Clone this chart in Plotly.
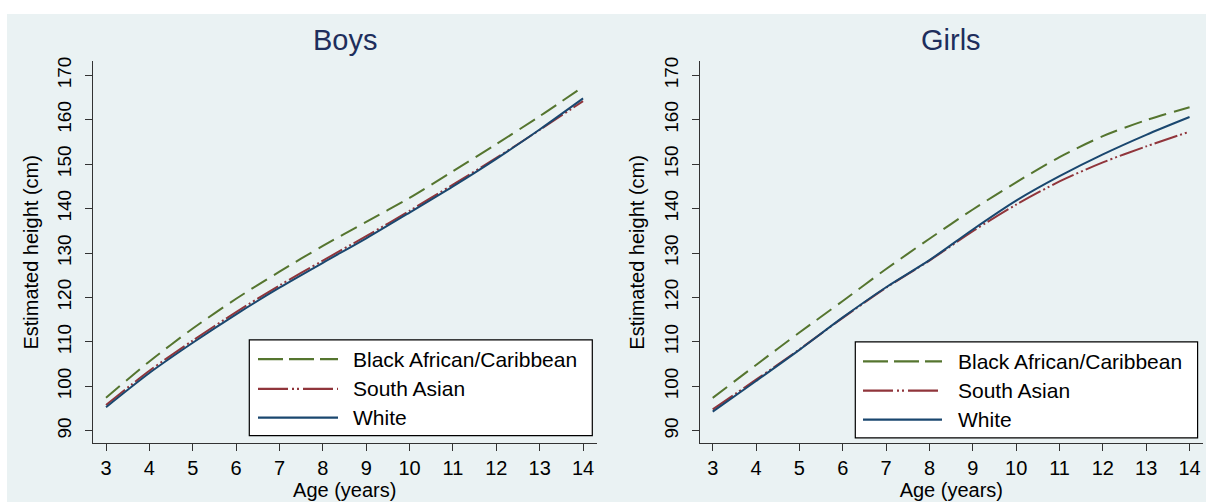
import plotly.graph_objects as go

ages = [3, 4, 5, 6, 7, 8, 9, 10, 11, 12, 13, 14]

boys_black = [97.4, 105.6, 113.0, 119.7, 125.8, 131.6, 137.0, 142.4, 148.4, 154.5, 160.8, 167.4]
boys_south_asian = [95.8, 103.5, 110.3, 116.7, 122.7, 128.3, 133.8, 139.5, 145.4, 151.4, 157.7, 164.2]
boys_white = [95.3, 103.0, 109.8, 116.2, 122.2, 127.8, 133.3, 139.1, 145.0, 151.2, 157.8, 164.8]

girls_black = [97.4, 104.8, 112.1, 119.2, 126.4, 133.2, 139.8, 145.9, 151.6, 156.3, 159.9, 162.8]
girls_south_asian = [94.8, 101.5, 108.3, 115.4, 122.2, 128.3, 134.9, 140.9, 146.1, 150.4, 154.0, 157.3]
girls_white = [94.3, 101.2, 108.2, 115.5, 122.3, 128.4, 135.3, 141.8, 147.3, 152.2, 156.6, 160.6]

panel_titles = ["Boys", "Girls"]
series_names = ["Black African/Caribbean", "South Asian", "White"]
x_ticks = list(range(3, 15))
y_ticks = list(range(90, 171, 10))

W, H = 1206, 502
BG = "#EAF2F3"
COLORS = ["#55752F", "#90353B", "#1A476F"]
DASH_PLOT = ["18px,8px", "24px,3px,2px,3px,2px,3px", "solid"]
DASH_LEG = ["25px,6px", "30px,4px,2px,3px,2px,4px", "solid"]
FONT = "Liberation Sans, Arial, sans-serif"


def px(x):
    return x / W


def py(y):
    return 1 - y / H


fig = go.Figure()

panels = [
    (boys_black, boys_south_asian, boys_white),
    (girls_black, girls_south_asian, girls_white),
]
for i, series in enumerate(panels):
    xa = "x" if i == 0 else "x2"
    ya = "y" if i == 0 else "y2"
    for k, vals in enumerate(series):
        fig.add_trace(go.Scatter(
            x=ages, y=vals, mode="lines", name=series_names[k],
            line=dict(color=COLORS[k], width=2, dash=DASH_PLOT[k], shape="spline", smoothing=0.8),
            xaxis=xa, yaxis=ya, showlegend=False, hoverinfo="skip",
        ))

xdoms = [[93 / W, 596.5 / W], [699.7 / W, 1203 / W]]
ydom = [1 - 442.7 / H, 1 - 57 / H]
yrange = [87.17, 173.12]
xrange_ = [2.7, 14.31]

axis_common = dict(
    showline=True, linecolor="#333333", linewidth=1.2, ticks="outside", ticklen=7,
    tickcolor="#333333", tickwidth=1.2, zeroline=False,
    title_font=dict(family=FONT, size=20, color="#000000"),
)

for i in range(2):
    sx = "" if i == 0 else "2"
    fig.update_layout(**{
        f"xaxis{sx}": dict(
            domain=xdoms[i], range=xrange_, tickvals=x_ticks, showgrid=False,
            anchor=f"y{sx}", tickfont=dict(family=FONT, size=20, color="#000000"),
            title=dict(text="Age (years)", standoff=3), **axis_common,
        ),
        f"yaxis{sx}": dict(
            domain=ydom, range=yrange, tickvals=y_ticks, showgrid=True,
            gridcolor=BG, gridwidth=2, anchor=f"x{sx}", tickangle=-90,
            tickfont=dict(family=FONT, size=19, color="#000000"), ticklabelstandoff=6,
            title=dict(text="Estimated height (cm)", standoff=10), **axis_common,
        ),
    })

shapes = [dict(type="rect", xref="paper", yref="paper", x0=px(7), x1=1, y0=0, y1=py(9),
               fillcolor=BG, line=dict(width=0), layer="below")]
annotations = []

for i in range(2):
    x0d, x1d = xdoms[i]
    cx = (x0d + x1d) / 2
    annotations.append(dict(text=panel_titles[i], x=cx, y=py(35), xref="paper", yref="paper",
                            showarrow=False, xanchor="center", yanchor="middle",
                            font=dict(family=FONT, size=29, color="#1E2E5C")))

legend_boxes = [
    dict(x0=249.3, x1=592.3, y0=338.3, y1=435.0, lx0=258, lx1=338, tx=350.7, rows=[357.7, 387.7, 416.7]),
    dict(x0=855.3, x1=1197.6, y0=340.3, y1=437.3, lx0=863, lx1=942, tx=955.6, rows=[360.0, 389.5, 418.7]),
]
for lb in legend_boxes:
    shapes.append(dict(type="rect", xref="paper", yref="paper",
                       x0=px(lb["x0"]), x1=px(lb["x1"]), y0=py(lb["y1"]), y1=py(lb["y0"]),
                       fillcolor="white", line=dict(color="#000000", width=1.2), layer="above"))
    for k, ry in enumerate(lb["rows"]):
        shapes.append(dict(type="line", xref="paper", yref="paper",
                           x0=px(lb["lx0"]), x1=px(lb["lx1"]), y0=py(ry), y1=py(ry),
                           line=dict(color=COLORS[k], width=2.2, dash=DASH_LEG[k]), layer="above"))
        annotations.append(dict(text=series_names[k], x=px(lb["tx"]), y=py(ry), xref="paper", yref="paper",
                                showarrow=False, xanchor="left", yanchor="middle",
                                font=dict(family=FONT, size=21, color="#000000")))

fig.update_layout(
    width=W, height=H, margin=dict(l=0, r=0, t=0, b=0),
    paper_bgcolor="white", plot_bgcolor="white",
    shapes=shapes, annotations=annotations, showlegend=False,
    font=dict(family=FONT, color="#000000"),
)

fig.write_html("out.html", config={"displayModeBar": False},
               post_script="document.body.style.margin='0';document.body.style.overflow='hidden';")
